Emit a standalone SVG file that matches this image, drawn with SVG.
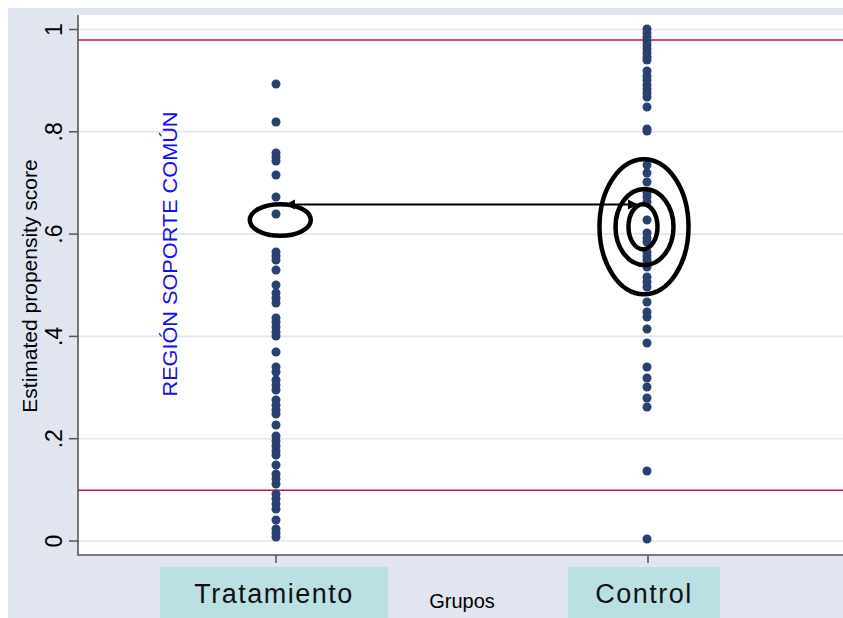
<svg xmlns="http://www.w3.org/2000/svg" width="843" height="618" viewBox="0 0 843 618">
<defs>
<style>
.grid{stroke:#e1e5f0;stroke-width:1.6}
.ref{stroke:#c8103a;stroke-width:1.6}
.axis{stroke:#555;stroke-width:1.6;fill:none}
.tick{stroke:#555;stroke-width:1.5}
.tl{font-family:"Liberation Sans",Arial,sans-serif;font-size:23px;fill:#000;text-anchor:middle}
.d{fill:#2a4170}
.ring{fill:none;stroke:#000;stroke-width:4.5}
.cat{fill:#bbe0e3}
.catt{font-family:"Liberation Sans",Arial,sans-serif;font-size:27px;fill:#111;text-anchor:middle;letter-spacing:1.5px}
</style>
<marker id="ah" viewBox="0 0 10 10" refX="9" refY="5" markerWidth="10" markerHeight="14" markerUnits="userSpaceOnUse" orient="auto-start-reverse">
<path d="M0,0 L10,5 L0,10 Z" fill="#000"/>
</marker>
</defs>
<rect x="0" y="0" width="843" height="618" fill="#fff"/>
<rect x="8" y="8" width="835" height="610" fill="#e1e5f0"/>
<rect x="78" y="15" width="765" height="540" fill="#fff"/>
<g id="gridlines">
<line class="grid" x1="78" y1="29.5" x2="843" y2="29.5"/>
<line class="grid" x1="78" y1="131.8" x2="843" y2="131.8"/>
<line class="grid" x1="78" y1="234.1" x2="843" y2="234.1"/>
<line class="grid" x1="78" y1="336.4" x2="843" y2="336.4"/>
<line class="grid" x1="78" y1="438.7" x2="843" y2="438.7"/>
<line class="grid" x1="78" y1="541" x2="843" y2="541"/>
</g>
<g id="reflines">
<line class="ref" x1="78" y1="40" x2="843" y2="40"/>
<line class="ref" x1="78" y1="490.3" x2="843" y2="490.3"/>
</g>
<g id="axes">
<path class="axis" d="M78,15 V555 H843"/>
<line class="tick" x1="69" y1="29.5" x2="78" y2="29.5"/>
<line class="tick" x1="69" y1="131.8" x2="78" y2="131.8"/>
<line class="tick" x1="69" y1="234.1" x2="78" y2="234.1"/>
<line class="tick" x1="69" y1="336.4" x2="78" y2="336.4"/>
<line class="tick" x1="69" y1="438.7" x2="78" y2="438.7"/>
<line class="tick" x1="69" y1="541" x2="78" y2="541"/>
<line class="tick" x1="276" y1="555" x2="276" y2="563"/>
<line class="tick" x1="648" y1="555" x2="648" y2="563"/>
<text class="tl" transform="translate(62,29.5) rotate(-90)">1</text>
<text class="tl" transform="translate(62,131.8) rotate(-90)">.8</text>
<text class="tl" transform="translate(62,234.1) rotate(-90)">.6</text>
<text class="tl" transform="translate(62,336.4) rotate(-90)">.4</text>
<text class="tl" transform="translate(62,438.7) rotate(-90)">.2</text>
<text class="tl" transform="translate(62,541) rotate(-90)">0</text>
<text transform="translate(37,286) rotate(-90)" font-family="'Liberation Sans',Arial,sans-serif" font-size="21" text-anchor="middle" fill="#000">Estimated propensity score</text>
<text x="462" y="608" font-family="'Liberation Sans',Arial,sans-serif" font-size="20" text-anchor="middle" fill="#000">Grupos</text>
</g>
<g id="region-label">
<text transform="translate(177,254) rotate(-90)" font-family="'Liberation Sans',Arial,sans-serif" font-size="20" text-anchor="middle" fill="#1010f0" textLength="285" lengthAdjust="spacingAndGlyphs">REGIÓN SOPORTE COMÚN</text>
</g>
<g id="treatment-dots">
<circle class="d" cx="276" cy="84" r="4.5"/>
<circle class="d" cx="276" cy="122" r="4.5"/>
<circle class="d" cx="276" cy="153" r="4.5"/>
<circle class="d" cx="276" cy="157" r="4.5"/>
<circle class="d" cx="276" cy="161" r="4.5"/>
<circle class="d" cx="276" cy="175" r="4.5"/>
<circle class="d" cx="276" cy="197" r="4.5"/>
<circle class="d" cx="276" cy="214" r="4.5"/>
<circle class="d" cx="276" cy="252" r="4.5"/>
<circle class="d" cx="276" cy="256" r="4.5"/>
<circle class="d" cx="276" cy="260" r="4.5"/>
<circle class="d" cx="276" cy="270" r="4.5"/>
<circle class="d" cx="276" cy="285" r="4.5"/>
<circle class="d" cx="276" cy="293" r="4.5"/>
<circle class="d" cx="276" cy="298" r="4.5"/>
<circle class="d" cx="276" cy="303" r="4.5"/>
<circle class="d" cx="276" cy="318" r="4.5"/>
<circle class="d" cx="276" cy="322" r="4.5"/>
<circle class="d" cx="276" cy="327" r="4.5"/>
<circle class="d" cx="276" cy="332" r="4.5"/>
<circle class="d" cx="276" cy="336" r="4.5"/>
<circle class="d" cx="276" cy="352" r="4.5"/>
<circle class="d" cx="276" cy="367" r="4.5"/>
<circle class="d" cx="276" cy="372" r="4.5"/>
<circle class="d" cx="276" cy="380" r="4.5"/>
<circle class="d" cx="276" cy="385" r="4.5"/>
<circle class="d" cx="276" cy="390" r="4.5"/>
<circle class="d" cx="276" cy="400" r="4.5"/>
<circle class="d" cx="276" cy="405" r="4.5"/>
<circle class="d" cx="276" cy="410" r="4.5"/>
<circle class="d" cx="276" cy="414" r="4.5"/>
<circle class="d" cx="276" cy="425" r="4.5"/>
<circle class="d" cx="276" cy="436" r="4.5"/>
<circle class="d" cx="276" cy="441" r="4.5"/>
<circle class="d" cx="276" cy="446" r="4.5"/>
<circle class="d" cx="276" cy="451" r="4.5"/>
<circle class="d" cx="276" cy="455" r="4.5"/>
<circle class="d" cx="276" cy="465" r="4.5"/>
<circle class="d" cx="276" cy="474" r="4.5"/>
<circle class="d" cx="276" cy="479" r="4.5"/>
<circle class="d" cx="276" cy="484" r="4.5"/>
<circle class="d" cx="276" cy="494" r="4.5"/>
<circle class="d" cx="276" cy="499" r="4.5"/>
<circle class="d" cx="276" cy="504" r="4.5"/>
<circle class="d" cx="276" cy="509" r="4.5"/>
<circle class="d" cx="276" cy="520" r="4.5"/>
<circle class="d" cx="276" cy="529" r="4.5"/>
<circle class="d" cx="276" cy="533" r="4.5"/>
<circle class="d" cx="276" cy="537" r="4.5"/>
</g>
<g id="control-dots">
<circle class="d" cx="647" cy="29" r="4.5"/>
<circle class="d" cx="647" cy="33" r="4.5"/>
<circle class="d" cx="647" cy="37" r="4.5"/>
<circle class="d" cx="647" cy="41" r="4.5"/>
<circle class="d" cx="647" cy="45" r="4.5"/>
<circle class="d" cx="647" cy="49" r="4.5"/>
<circle class="d" cx="647" cy="53" r="4.5"/>
<circle class="d" cx="647" cy="57" r="4.5"/>
<circle class="d" cx="647" cy="60" r="4.5"/>
<circle class="d" cx="647" cy="71" r="4.5"/>
<circle class="d" cx="647" cy="76" r="4.5"/>
<circle class="d" cx="647" cy="80" r="4.5"/>
<circle class="d" cx="647" cy="85" r="4.5"/>
<circle class="d" cx="647" cy="89" r="4.5"/>
<circle class="d" cx="647" cy="93" r="4.5"/>
<circle class="d" cx="647" cy="97" r="4.5"/>
<circle class="d" cx="647" cy="107" r="4.5"/>
<circle class="d" cx="647" cy="129" r="4.5"/>
<circle class="d" cx="647" cy="131" r="4.5"/>
<circle class="d" cx="647" cy="165" r="4.5"/>
<circle class="d" cx="647" cy="173" r="4.5"/>
<circle class="d" cx="647" cy="182" r="4.5"/>
<circle class="d" cx="647" cy="193" r="4.5"/>
<circle class="d" cx="647" cy="197" r="4.5"/>
<circle class="d" cx="647" cy="202" r="4.5"/>
<circle class="d" cx="647" cy="220" r="4.5"/>
<circle class="d" cx="647" cy="233" r="4.5"/>
<circle class="d" cx="647" cy="238" r="4.5"/>
<circle class="d" cx="647" cy="242" r="4.5"/>
<circle class="d" cx="647" cy="252" r="4.5"/>
<circle class="d" cx="647" cy="256" r="4.5"/>
<circle class="d" cx="647" cy="260" r="4.5"/>
<circle class="d" cx="647" cy="267" r="4.5"/>
<circle class="d" cx="647" cy="277" r="4.5"/>
<circle class="d" cx="647" cy="282" r="4.5"/>
<circle class="d" cx="647" cy="287" r="4.5"/>
<circle class="d" cx="647" cy="302" r="4.5"/>
<circle class="d" cx="647" cy="312" r="4.5"/>
<circle class="d" cx="647" cy="317" r="4.5"/>
<circle class="d" cx="647" cy="329" r="4.5"/>
<circle class="d" cx="647" cy="343" r="4.5"/>
<circle class="d" cx="647" cy="367" r="4.5"/>
<circle class="d" cx="647" cy="378" r="4.5"/>
<circle class="d" cx="647" cy="387" r="4.5"/>
<circle class="d" cx="647" cy="398" r="4.5"/>
<circle class="d" cx="647" cy="407" r="4.5"/>
<circle class="d" cx="647" cy="471" r="4.5"/>
<circle class="d" cx="647" cy="539" r="4.5"/>
</g>
<g id="rings">
<ellipse class="ring" cx="644" cy="226.7" rx="44.5" ry="67.5"/>
<ellipse class="ring" cx="644.5" cy="227" rx="29" ry="38"/>
<ellipse class="ring" cx="643" cy="226.7" rx="14.5" ry="22.5"/>
<ellipse class="ring" cx="280.3" cy="220" rx="30.5" ry="15.8"/>
</g>
<g id="connectors">
<line x1="637" y1="204.5" x2="286" y2="204.5" stroke="#000" stroke-width="1.8" marker-start="url(#ah)" marker-end="url(#ah)"/>
</g>
<g id="cat-tratamiento">
<rect class="cat" x="160" y="567" width="228" height="51"/>
<text class="catt" x="274" y="603">Tratamiento</text>
</g>
<g id="cat-control">
<rect class="cat" x="568" y="567" width="152" height="51"/>
<text class="catt" x="644" y="603">Control</text>
</g>
</svg>
